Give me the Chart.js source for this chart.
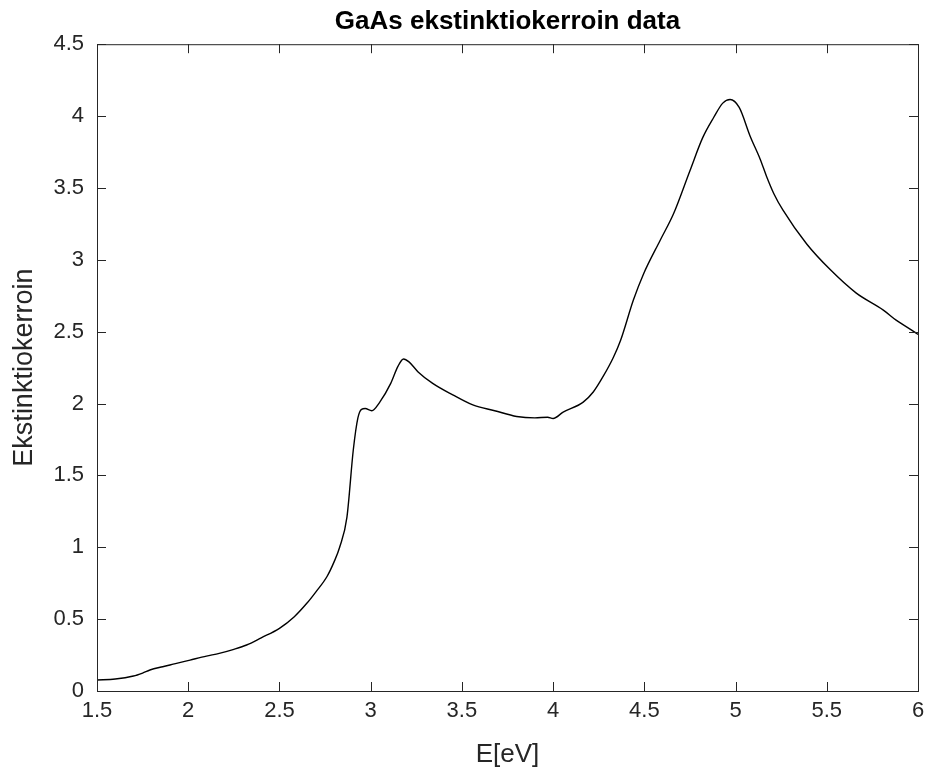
<!DOCTYPE html>
<html>
<head>
<meta charset="utf-8">
<script src="https://cdn.jsdelivr.net/npm/chart.js@4"></script>
<style>
  body { margin: 0; background: #fff; }
  #wrap { width: 932px; height: 774px; }
</style>
</head>
<body>
<div id="wrap"><canvas id="myChart" width="932" height="774"></canvas></div>
<script>
// photon energy (eV) and extinction coefficient
var energy = [1.50, 1.60, 1.70, 1.75, 1.79, 1.86, 1.93, 2.01, 2.10, 2.17, 2.25, 2.32, 2.40, 2.50,
  2.58, 2.65, 2.70, 2.76, 2.80, 2.83, 2.87, 2.905, 2.93, 2.95, 2.97, 3.006, 3.05, 3.11,
  3.15, 3.18, 3.21, 3.26, 3.34, 3.45, 3.56, 3.68, 3.80, 3.90, 3.97, 4.00, 4.055, 4.165,
  4.22, 4.275, 4.33, 4.37, 4.44, 4.495, 4.587, 4.66, 4.75, 4.82, 4.88, 4.93, 4.97, 5.02,
  5.08, 5.135, 5.17, 5.21, 5.26, 5.39, 5.52, 5.66, 5.81, 5.88, 5.99, 6.00];
var kappa = [0.077, 0.083, 0.104, 0.125, 0.146, 0.169, 0.190, 0.215, 0.243, 0.262, 0.290, 0.320, 0.370, 0.436,
  0.515, 0.610, 0.690, 0.795, 0.900, 1.00, 1.21, 1.68, 1.90, 1.96, 1.965, 1.95, 2.01, 2.14,
  2.26, 2.31, 2.29, 2.22, 2.14, 2.06, 1.99, 1.95, 1.91, 1.90, 1.905, 1.896, 1.94, 2.01,
  2.08, 2.19, 2.32, 2.44, 2.72, 2.90, 3.136, 3.32, 3.62, 3.85, 3.99, 4.09, 4.115, 4.06,
  3.86, 3.70, 3.58, 3.46, 3.345, 3.11, 2.93, 2.77, 2.65, 2.58, 2.49, 2.48];
var xTicks = [1.5, 2, 2.5, 3, 3.5, 4, 4.5, 5, 5.5, 6];
var yTicks = [0, 0.5, 1, 1.5, 2, 2.5, 3, 3.5, 4, 4.5];

var pts = energy.map(function (e, i) { return { x: e, y: kappa[i] }; });

var txt = '#262626';
var fam = '"Liberation Sans", Arial, Helvetica, sans-serif';

// box round the plot and inward ticks on all four sides
var boxPlugin = {
  id: 'box',
  afterDraw: function (chart) {
    var a = chart.chartArea, ctx = chart.ctx;
    var xs = chart.scales.x, ys = chart.scales.y;
    ctx.save();
    ctx.strokeStyle = txt;
    ctx.lineWidth = 1;
    ctx.strokeRect(a.left + 0.5, a.top + 0.5, a.right - a.left, a.bottom - a.top);
    ctx.beginPath();
    xTicks.forEach(function (t) {
      var px = Math.round(xs.getPixelForValue(t)) + 0.5;
      ctx.moveTo(px, a.bottom); ctx.lineTo(px, a.bottom - 9);
      ctx.moveTo(px, a.top); ctx.lineTo(px, a.top + 9);
    });
    yTicks.forEach(function (t) {
      var py = Math.round(ys.getPixelForValue(t)) + 0.5;
      ctx.moveTo(a.left, py); ctx.lineTo(a.left + 9, py);
      ctx.moveTo(a.right, py); ctx.lineTo(a.right - 9, py);
    });
    ctx.stroke();
    ctx.restore();
  }
};

var ctx = document.getElementById('myChart').getContext('2d');
var myChart = new Chart(ctx, {
  type: 'line',
  data: {
    datasets: [{
      data: pts,
      borderColor: '#000',
      borderWidth: 1.4,
      pointRadius: 0,
      fill: false,
      cubicInterpolationMode: 'monotone'
    }]
  },
  options: {
    responsive: false,
    animation: false,
    layout: { padding: { left: 0, right: 14, top: 0, bottom: 0 } },
    plugins: {
      legend: { display: false },
      tooltip: { enabled: false },
      title: {
        display: true,
        fullSize: false,
        text: 'GaAs ekstinktiokerroin data',
        color: '#000',
        font: { family: fam, size: 26, weight: 'bold' },
        padding: { top: 6, bottom: 7 }
      }
    },
    scales: {
      x: {
        type: 'linear',
        min: 1.5, max: 6,
        afterBuildTicks: function (s) { s.ticks = xTicks.map(function (v) { return { value: v }; }); },
        afterFit: function (s) { s.height = 83; },
        grid: { display: false, drawTicks: false },
        border: { display: false },
        ticks: {
          color: txt, font: { family: fam, size: 22 }, padding: 7, maxRotation: 0,
          callback: function (v) { return String(v); }
        },
        title: { display: true, text: 'E[eV]', color: txt, font: { family: fam, size: 26 }, padding: { top: 0, bottom: 4 } }
      },
      y: {
        type: 'linear',
        min: 0, max: 4.5,
        afterBuildTicks: function (s) { s.ticks = yTicks.map(function (v) { return { value: v }; }); },
        afterFit: function (s) { s.width = 97; },
        grid: { display: false, drawTicks: false },
        border: { display: false },
        ticks: {
          color: txt, font: { family: fam, size: 22 }, padding: 13,
          callback: function (v) { return String(v); }
        },
        title: { display: true, text: 'Ekstinktiokerroin', color: txt, font: { family: fam, size: 27 }, padding: { top: 8, bottom: 0 } }
      }
    }
  },
  plugins: [boxPlugin]
});
</script>
</body>
</html>
